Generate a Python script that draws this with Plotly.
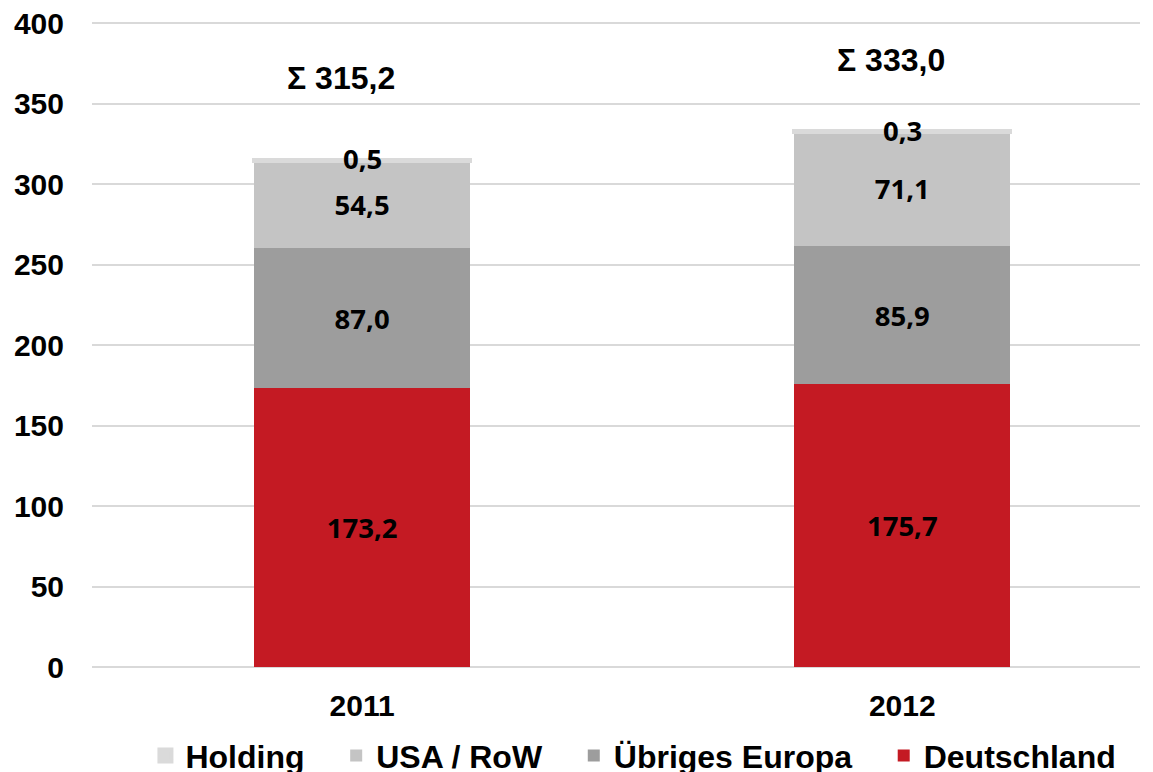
import plotly.graph_objects as go

years = ["2011", "2012"]
deutschland = [173.2, 175.7]
europa = [87.0, 85.9]
usa_row = [54.5, 71.1]
holding = [0.5, 0.3]
totals = [315.2, 333.0]
y_ticks = [0, 50, 100, 150, 200, 250, 300, 350, 400]

def fmt(v):
    return f"{v:.1f}".replace(".", ",")

label_font = dict(family="Noto Sans", size=27.5, color="black", weight="bold")
arial = "Liberation Sans, Arial"
pad = "\u00a0\u00a0\u00a0"

fig = go.Figure()
series = [
    ("Deutschland", deutschland, "#C41A23", True),
    ("Übriges Europa", europa, "#9D9D9D", True),
    ("USA / RoW", usa_row, "#C4C4C4", True),
    ("Holding", holding, "#DADADA", False),
]
for name, vals, color, show_text in series:
    fig.add_trace(go.Bar(
        x=years, y=vals, name=name if name == "Deutschland" else name + pad,
        marker=dict(color=color, line=dict(color=color, width=4 if name == "Holding" else 0)),
        text=[fmt(v) for v in vals] if show_text else None,
        textposition="inside" if show_text else "none",
        insidetextanchor="middle",
        textangle=0,
        constraintext="none",
        textfont=label_font,
        width=0.4,
        hoverinfo="skip",
    ))

sigma_shift = [82, 71]
sigma_xshift = [-21, -11]
for i, yr in enumerate(years):
    fig.add_annotation(x=i, y=totals[i], text=fmt(holding[i]), showarrow=False,
                       yshift=1, font=label_font)
    fig.add_annotation(x=i, y=totals[i], text="Σ " + fmt(totals[i]), showarrow=False,
                       yshift=sigma_shift[i], xshift=sigma_xshift[i],
                       font=dict(family=arial, size=32, color="black", weight="bold"))

fig.update_layout(
    barmode="stack",
    width=1153, height=772,
    margin=dict(l=84, r=21, t=12, b=113, autoexpand=False),
    plot_bgcolor="white", paper_bgcolor="white",
    showlegend=True,
    legend=dict(orientation="h", traceorder="reversed", x=0.051, xanchor="left",
                y=-0.137, yanchor="middle",
                font=dict(family=arial, size=32, color="black", weight="bold"),
                itemclick=False),
    xaxis=dict(type="category", range=[-0.5, 1.44], showgrid=False, showline=False, ticks="",
               ticklabelstandoff=18, automargin=False,
               tickfont=dict(family=arial, size=30, color="black", weight="bold")),
    yaxis=dict(range=[0, 402], tickvals=y_ticks, showgrid=True, gridcolor="#D9D9D9",
               gridwidth=1.5, zeroline=True, zerolinecolor="#D9D9D9", zerolinewidth=1.5,
               showline=False, ticks="", ticklabelstandoff=27, automargin=False,
               ticklabeloverflow="allow",
               tickfont=dict(family=arial, size=30, color="black", weight="bold")),
)

fig.write_html("out.html")
